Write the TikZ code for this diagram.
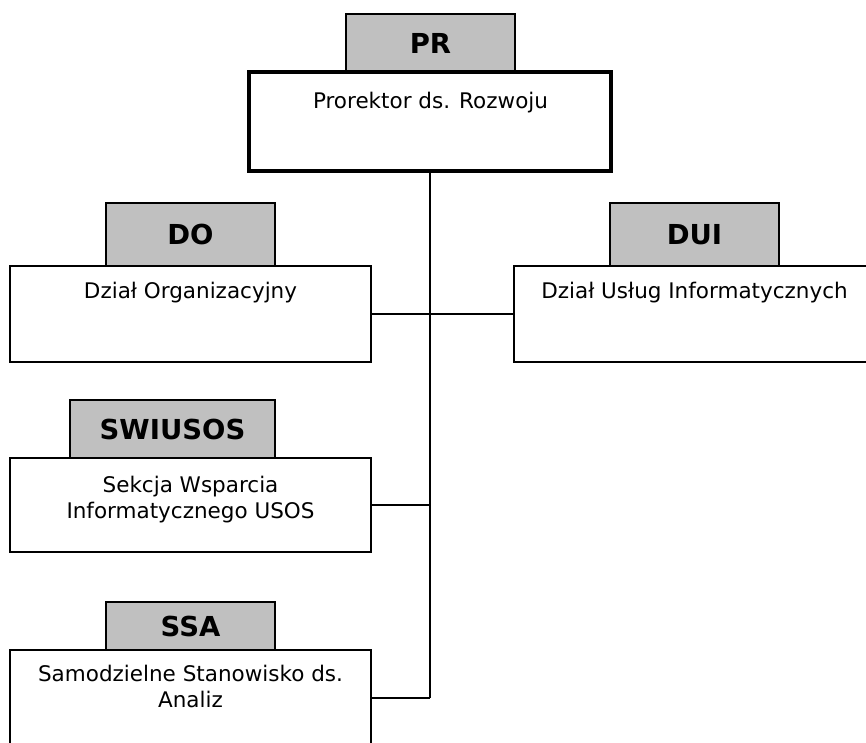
\documentclass[tikz,border=0pt]{standalone}
\usepackage{fontspec}
\setmainfont{DejaVu Sans}
\begin{document}
\begin{tikzpicture}[x=1pt,y=-1pt,
  box/.style={draw=black, line width=1.5pt, fill=white, rectangle, inner sep=0pt, minimum width=361pt, minimum height=96pt},
  head/.style={draw=black, line width=1.5pt, fill=headgray, rectangle, inner sep=0pt, font=\fontsize{27.5}{30}\selectfont\bfseries},
  lbl/.style={anchor=base, align=center, font=\fontsize{21.5}{26}\selectfont, inner sep=0pt},
  conn/.style={draw=black, line width=1.5pt},
  trunk/.style={draw=black, line width=2pt}]
\definecolor{headgray}{HTML}{C0C0C0}
\useasboundingbox (0,0) rectangle (866,742);
% PR
\node[head, minimum width=169pt, minimum height=58pt] (prh) at (430.5,43) {PR};
\node[box, line width=4pt, minimum width=362pt, minimum height=99pt] (pr) at (430,121.5) {};
\node[lbl] (prt) at (430.5,108) {Prorektor ds. Rozwoju};
% DO
\node[head, minimum width=169pt, minimum height=63pt] (doh) at (190.5,234.5) {DO};
\node[box] (do) at (190.5,314) {};
\node[lbl] (dot) at (190.5,298) {Dział Organizacyjny};
% DUI
\node[head, minimum width=169pt, minimum height=63pt] (duih) at (694.5,234.5) {DUI};
\node[box] (dui) at (694.5,314) {};
\node[lbl] (duit) at (694.5,298) {Dział Usług Informatycznych};
% SWIUSOS
\node[head, minimum width=205pt, minimum height=58pt] (swh) at (172.5,429) {SWIUSOS};
\node[box, minimum height=94pt] (sw) at (190.5,505) {};
\node[lbl] (swt) at (190.5,518) {Sekcja Wsparcia\\Informatycznego USOS};
% SSA
\node[head, minimum width=169pt, minimum height=48pt] (ssah) at (190.5,626) {SSA};
\node[box] (ssa) at (190.5,698) {};
\node[lbl] (ssat) at (190.5,707) {Samodzielne Stanowisko ds.\\Analiz};
% connectors
\coordinate (jn) at (ssa.east -| pr.south);
\draw[trunk] (pr.south) -- (jn);
\draw[conn] (do.east) -- (dui.west);
\draw[conn] (sw.east) -- (sw.east -| pr.south);
\draw[conn] (ssa.east) -- (jn);
\end{tikzpicture}
\end{document}
